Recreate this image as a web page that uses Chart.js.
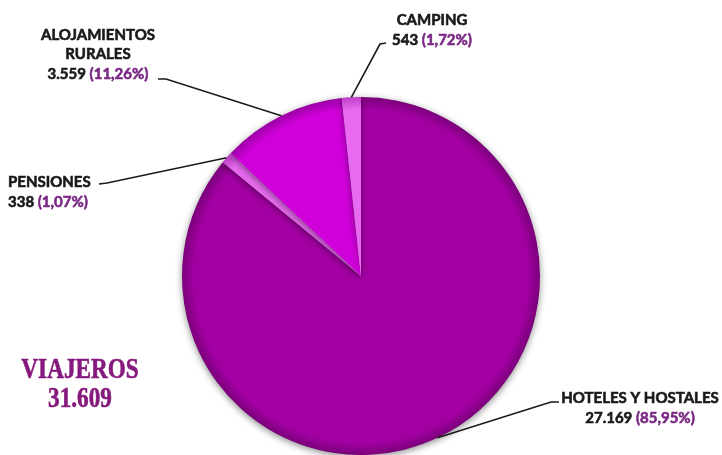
<!DOCTYPE html>
<html>
<head>
<meta charset="utf-8">
<script src="https://cdn.jsdelivr.net/npm/chart.js@4"></script>
<style>
  html, body { margin: 0; padding: 0; background: #fff; }
  #wrap { width: 722px; height: 455px; position: relative; }
</style>
</head>
<body>
<div id="wrap"><canvas id="viajeros" width="722" height="455"></canvas></div>
<script>
// datos
const Categorias = ['HOTELES Y HOSTALES', 'PENSIONES', 'ALOJAMIENTOS RURALES', 'CAMPING'];
const Viajeros = [27169, 338, 3559, 543];
const TotalTitulo = 'VIAJEROS';
const Colores = ['#a300a3', '#e86af0', '#d000da', '#e86af0'];
const ColoresBorde = ['#7a007a', '#c040c8', '#9a00a4', '#c040c8']; // sombreado del borde

// colocacion de las etiquetas (lineas de texto, ancla del texto, tramo corto de la guia)
const Etiquetas = [
  { lineas: ['HOTELES Y HOSTALES'], x: 640, y: 403, tick: [559, 402, 551, 402] },
  { lineas: ['PENSIONES'], x: 8, y: 187, align: 'left', tick: [99, 184, 107, 183] },
  { lineas: ['ALOJAMIENTOS', 'RURALES'], x: 98, y: 40, tick: [158, 79, 166, 79] },
  { lineas: ['CAMPING'], x: 432, y: 25, tick: [386, 43, 380, 44] }
];

const Total = Viajeros.reduce((a, b) => a + b, 0);

function Miles(n) {
  return String(n).replace(/\B(?=(\d{3})+(?!\d))/g, '.');
}
function Porcentaje(n) {
  return '(' + (n / Total * 100).toFixed(2).replace('.', ',') + '%)';
}

const FONT_LBL = 'bold 15px Lato';

// degradado radial para el borde oscuro del pastel
function Relleno(context) {
  const chart = context.chart;
  const area = chart.chartArea;
  if (!area) return Colores[context.dataIndex];
  const cx = (area.left + area.right) / 2;
  const cy = (area.top + area.bottom) / 2;
  const r = Math.min(area.right - area.left, area.bottom - area.top) / 2;
  const g = chart.ctx.createRadialGradient(cx, cy, 0, cx, cy, r);
  g.addColorStop(0, Colores[context.dataIndex]);
  g.addColorStop(0.93, Colores[context.dataIndex]);
  g.addColorStop(1, ColoresBorde[context.dataIndex]);
  return g;
}

// texto un poco mas grueso (relleno + trazo fino)
function Texto(ctx, s, x, y, color) {
  ctx.fillStyle = color;
  ctx.strokeStyle = color;
  ctx.lineWidth = 0.6;
  ctx.fillText(s, x, y);
  ctx.strokeText(s, x, y);
}

const sombra = {
  id: 'sombra',
  beforeDatasetsDraw(chart) {
    const ctx = chart.ctx;
    ctx.save();
    ctx.shadowColor = 'rgba(0,0,0,0.45)';
    ctx.shadowBlur = 7;
    ctx.shadowOffsetY = 2;
  },
  afterDatasetsDraw(chart) {
    chart.ctx.restore();
  }
};

const etiquetas = {
  id: 'etiquetas',
  afterDraw(chart) {
    const ctx = chart.ctx;
    const arcs = chart.getDatasetMeta(0).data;
    ctx.save();
    // guias
    ctx.strokeStyle = '#1a1a1a';
    ctx.lineWidth = 1.6;
    arcs.forEach((arc, i) => {
      const p = arc.getProps(['x', 'y', 'startAngle', 'endAngle', 'outerRadius'], true);
      const mid = (p.startAngle + p.endAngle) / 2;
      const ex = p.x + Math.cos(mid) * p.outerRadius;
      const ey = p.y + Math.sin(mid) * p.outerRadius;
      const t = Etiquetas[i].tick;
      ctx.beginPath();
      ctx.moveTo(t[0], t[1]);
      ctx.lineTo(t[2], t[3]);
      ctx.lineTo(ex, ey);
      ctx.stroke();
    });
    // textos
    ctx.font = FONT_LBL;
    ctx.textBaseline = 'alphabetic';
    Etiquetas.forEach((e, i) => {
      let y = e.y;
      e.lineas.forEach(l => {
        ctx.textAlign = e.align || 'center';
        Texto(ctx, l, e.x, y, '#1a1a1a');
        y += 19;
      });
      y += 1;
      const num = Miles(Viajeros[i]) + ' ';
      const pct = Porcentaje(Viajeros[i]);
      const w1 = ctx.measureText(num).width;
      const w2 = ctx.measureText(pct).width;
      let x0 = e.align === 'left' ? e.x : e.x - (w1 + w2) / 2;
      ctx.textAlign = 'left';
      Texto(ctx, num, x0, y, '#1a1a1a');
      Texto(ctx, pct, x0 + w1, y, '#7a2a84');
    });
    // total
    ctx.font = 'bold 29px "Liberation Serif"';
    ctx.textAlign = 'center';
    ctx.translate(80, 0);
    ctx.scale(0.8, 1);
    Texto(ctx, TotalTitulo, 0, 378, '#86197d');
    Texto(ctx, Miles(Total), 0, 407, '#86197d');
    ctx.restore();
  }
};

const ctx = document.getElementById('viajeros').getContext('2d');
new Chart(ctx, {
  type: 'pie',
  data: {
    labels: Categorias,
    datasets: [{
      data: Viajeros,
      backgroundColor: Relleno,
      borderWidth: 0
    }]
  },
  options: {
    responsive: false,
    animation: false,
    layout: { padding: { top: 97, bottom: 0, left: 0, right: 0 } },
    plugins: {
      legend: { display: false },
      tooltip: { enabled: false }
    }
  },
  plugins: [sombra, etiquetas]
});
</script>
</body>
</html>
